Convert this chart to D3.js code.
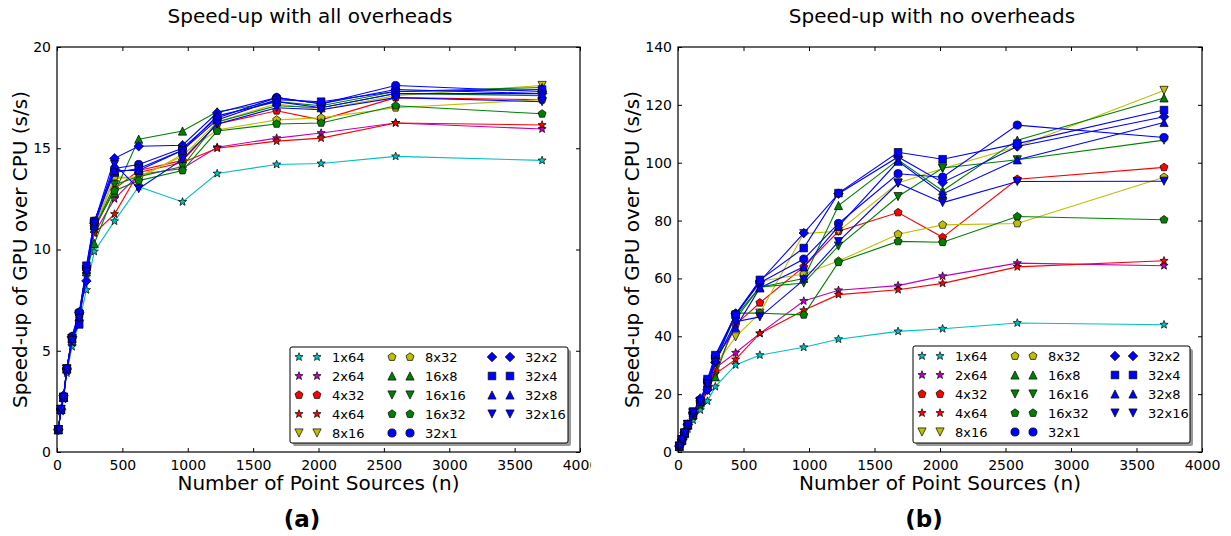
<!DOCTYPE html>
<html>
<head>
<meta charset="utf-8">
<script src="https://cdn.jsdelivr.net/npm/d3@7"></script>
<style>
  html, body { margin: 0; padding: 0; background: #fff; }
  svg { display: block; }
  text { font-family: 'DejaVu Sans', sans-serif; fill: #000; }
</style>
</head>
<body>
<svg id="chart" width="1231" height="536"></svg>
<script>
// ---------------- DATA ----------------
const nPoints = [10, 30, 50, 75, 115, 170, 225, 285, 440, 625, 960, 1225, 1680, 2020, 2590, 3710];
const seriesNames = ['1x64', '2x64', '4x32', '4x64', '8x16', '8x32', '16x8', '16x16', '16x32', '32x1', '32x2', '32x4', '32x8', '32x16'];

// Speed-up with all overheads
const all_1x64  = [1.1, 2.0, 2.6, 3.9, 5.2, 6.4, 8.0, 9.9, 11.4, 13.1, 12.35, 13.75, 14.2, 14.25, 14.6, 14.4];
const all_2x64  = [1.1, 2.1, 2.7, 4.0, 5.4, 6.6, 8.8, 10.8, 12.5, 13.7, 14.0, 15.05, 15.5, 15.75, 16.25, 15.95];
const all_4x32  = [1.1, 2.1, 2.7, 4.1, 5.6, 6.8, 9.0, 11.0, 13.0, 13.9, 14.4, 16.2, 16.85, 16.4, 17.5, 17.4];
const all_4x64  = [1.1, 2.1, 2.7, 4.0, 5.5, 6.7, 8.9, 10.8, 11.75, 13.8, 14.3, 15.0, 15.35, 15.5, 16.25, 16.15];
const all_8x16  = [1.1, 2.1, 2.7, 4.1, 5.6, 6.8, 9.0, 11.0, 13.5, 13.6, 14.6, 16.3, 17.2, 16.9, 17.6, 18.1];
const all_8x32  = [1.1, 2.1, 2.7, 4.1, 5.6, 6.8, 9.0, 11.1, 13.6, 13.5, 14.7, 15.9, 16.4, 16.5, 17.0, 17.4];
const all_16x8  = [1.1, 2.1, 2.7, 4.1, 5.5, 6.7, 8.9, 10.3, 12.8, 15.45, 15.85, 16.8, 17.3, 17.1, 17.8, 18.0];
const all_16x16 = [1.1, 2.1, 2.7, 4.1, 5.6, 6.8, 9.0, 11.0, 13.2, 13.6, 14.1, 16.3, 17.1, 17.0, 17.7, 17.6];
const all_16x32 = [1.1, 2.1, 2.7, 4.1, 5.6, 6.8, 9.0, 11.1, 12.9, 13.4, 13.9, 15.85, 16.2, 16.25, 17.1, 16.7];
const all_32x1  = [1.1, 2.1, 2.7, 4.1, 5.7, 6.9, 9.1, 11.4, 14.0, 14.2, 15.0, 16.5, 17.5, 17.2, 18.1, 17.8];
const all_32x2  = [1.1, 2.1, 2.8, 4.1, 5.7, 6.9, 8.45, 11.3, 14.5, 15.1, 15.15, 16.75, 17.5, 17.2, 17.9, 17.7];
const all_32x4  = [1.1, 2.1, 2.7, 4.1, 5.6, 6.3, 9.2, 11.4, 13.8, 14.0, 14.9, 16.4, 17.4, 17.3, 17.8, 17.9];
const all_32x8  = [1.1, 2.1, 2.7, 4.1, 5.6, 6.7, 9.0, 11.2, 13.9, 13.9, 14.9, 16.6, 17.3, 17.0, 17.7, 17.7];
const all_32x16 = [1.1, 2.1, 2.7, 4.1, 5.5, 6.6, 8.9, 11.3, 14.2, 13.0, 14.45, 16.2, 17.0, 16.9, 17.5, 17.3];

// Speed-up with no overheads
const none_1x64  = [1.5, 3.5, 5.5, 8, 11, 14.5, 17.6, 22.6, 30.1, 33.5, 36.2, 39, 41.7, 42.6, 44.6, 44];
const none_2x64  = [2, 4, 6.2, 9, 12.5, 16.5, 22, 29, 34.3, 41, 52.2, 55.9, 57.5, 60.8, 65.3, 64.4];
const none_4x32  = [2, 4, 6.2, 9, 12.5, 16.5, 22, 28, 44, 51.6, 64, 76.3, 82.8, 74.2, 94.3, 98.4];
const none_4x64  = [2, 4, 6, 8.8, 12.2, 16, 21, 27, 32, 41, 49, 54.4, 56.1, 58.3, 64, 66.1];
const none_8x16  = [2, 4.1, 6.5, 9.5, 13.5, 17.5, 23.5, 30, 39.8, 48, 75.5, 76.3, 93, 98, 105.5, 125];
const none_8x32  = [2, 4.2, 6.5, 9.5, 13.5, 17.5, 24, 32, 47.5, 59, 61.5, 66, 75.3, 78.5, 79, 95];
const none_16x8  = [2, 4, 6.4, 9.3, 13, 17, 23, 26, 46, 57, 60, 85.2, 101, 90.3, 107.8, 122.4];
const none_16x16 = [2, 4.2, 6.5, 9.5, 13.5, 17.5, 24, 32, 47, 57, 58.4, 71.2, 88.3, 98.2, 101, 107.8];
const none_16x32 = [2, 4.2, 6.5, 9.5, 13.5, 17.5, 24, 32, 48, 48, 47.4, 65.6, 72.8, 72.5, 81.4, 80.3];
const none_32x1  = [2, 4.2, 6.6, 9.5, 13.5, 17.5, 24, 33, 47.5, 58.5, 66.7, 79, 96.2, 95, 113, 108.7];
const none_32x2  = [2, 4.2, 6.6, 9.5, 13.5, 18.5, 21.5, 31, 47.8, 59, 75.7, 89.3, 102, 93.2, 105.6, 115.9];
const none_32x4  = [2, 4.2, 6.6, 9.5, 14, 17.5, 25.2, 33.5, 47.5, 59.5, 70.5, 89.5, 103.6, 101.2, 106.6, 118.2];
const none_32x8  = [2, 4.2, 6.6, 9.5, 13.5, 17.5, 24, 32, 43, 56.7, 64, 78, 100.5, 89.2, 101, 113.9];
const none_32x16 = [2, 4.2, 6.5, 9.5, 13.5, 17.5, 23.5, 31, 45, 46.7, 59.5, 72.7, 92.9, 86.2, 93.5, 93.6];

const xTicks = [0, 500, 1000, 1500, 2000, 2500, 3000, 3500, 4000];
const yTicksAll = [0, 5, 10, 15, 20];
const yTicksNone = [0, 20, 40, 60, 80, 100, 120, 140];

// ---------------- STYLES ----------------
const seriesColors = ['#00bfbf', '#bf00bf', '#ff0000', '#ff0000', '#bfbf00', '#bfbf00', '#008000', '#008000', '#008000', '#0000ff', '#0000ff', '#0000ff', '#0000ff', '#0000ff'];
const seriesMarkers = ['star', 'star', 'pentagon', 'star', 'triDown', 'pentagon', 'triUp', 'triDown', 'pentagon', 'circle', 'diamond', 'square', 'triUp', 'triDown'];

function markerPath(type) {
  const p = d3.path();
  if (type === 'circle') {
    const r = 4.1; p.arc(0, 0, r, 0, 2 * Math.PI); p.closePath();
  } else if (type === 'square') {
    const r = 3.8; p.rect(-r, -r, 2 * r, 2 * r);
  } else if (type === 'diamond') {
    const r = 4.8; p.moveTo(0, -r); p.lineTo(r, 0); p.lineTo(0, r); p.lineTo(-r, 0); p.closePath();
  } else if (type === 'triUp') {
    const r = 4.1; p.moveTo(0, -r); p.lineTo(r, r); p.lineTo(-r, r); p.closePath();
  } else if (type === 'triDown') {
    const r = 4.1; p.moveTo(0, r); p.lineTo(r, -r); p.lineTo(-r, -r); p.closePath();
  } else if (type === 'pentagon') {
    const r = 4.2;
    for (let i = 0; i < 5; i++) {
      const a = -Math.PI / 2 + i * 2 * Math.PI / 5;
      if (i === 0) p.moveTo(r * Math.cos(a), r * Math.sin(a)); else p.lineTo(r * Math.cos(a), r * Math.sin(a));
    }
    p.closePath();
  } else if (type === 'star') {
    const R = 4.3, r = R * 0.42;
    for (let i = 0; i < 10; i++) {
      const a = -Math.PI / 2 + i * Math.PI / 5;
      const rr = i % 2 === 0 ? R : r;
      if (i === 0) p.moveTo(rr * Math.cos(a), rr * Math.sin(a)); else p.lineTo(rr * Math.cos(a), rr * Math.sin(a));
    }
    p.closePath();
  }
  return p.toString();
}

const svg = d3.select('#chart');
svg.append('rect').attr('width', 1231).attr('height', 536).attr('fill', '#fff');

const defs = svg.append('defs');
defs.append('clipPath').attr('id', 'clipLeft').append('rect').attr('x', 0).attr('y', 0).attr('width', 591).attr('height', 536);

const panels = [
  {
    data: [all_1x64, all_2x64, all_4x32, all_4x64, all_8x16, all_8x32, all_16x8, all_16x16, all_16x32, all_32x1, all_32x2, all_32x4, all_32x8, all_32x16],
    x0: 57, x1: 580, y0: 47, y1: 452, ymax: 20, yTicks: yTicksAll,
    title: 'Speed-up with all overheads', titleX: 310, ylabelX: 27, caption: '(a)', captionX: 302,
    legend: { x: 290, y: 347, w: 278, h: 96 }, clip: 'url(#clipLeft)'
  },
  {
    data: [none_1x64, none_2x64, none_4x32, none_4x64, none_8x16, none_8x32, none_16x8, none_16x16, none_16x32, none_32x1, none_32x2, none_32x4, none_32x8, none_32x16],
    x0: 678, x1: 1202, y0: 47, y1: 452, ymax: 140, yTicks: yTicksNone,
    title: 'Speed-up with no overheads', titleX: 932, ylabelX: 639, caption: '(b)', captionX: 924,
    legend: { x: 913, y: 346, w: 277, h: 97 }, clip: null
  }
];

panels.forEach(P => {
  const g = svg.append('g');
  if (P.clip) g.attr('clip-path', P.clip);
  const x = d3.scaleLinear().domain([0, 4000]).range([P.x0, P.x1]);
  const y = d3.scaleLinear().domain([0, P.ymax]).range([P.y1, P.y0]);

  // series
  const line = d3.line().x((d, i) => x(nPoints[i])).y(d => y(d));
  P.data.forEach((vals, si) => {
    g.append('path').attr('d', line(vals)).attr('fill', 'none')
      .attr('stroke', seriesColors[si]).attr('stroke-width', 1.1);
    g.append('g').selectAll('path').data(vals).join('path')
      .attr('d', markerPath(seriesMarkers[si]))
      .attr('transform', (d, i) => `translate(${x(nPoints[i])},${y(d)})`)
      .attr('fill', seriesColors[si]).attr('stroke', '#000').attr('stroke-width', 0.7);
  });

  // axes
  const axB = g.append('g').attr('transform', `translate(0,${P.y1})`)
    .call(d3.axisBottom(x).tickValues(xTicks).tickSize(-4).tickSizeOuter(0).tickPadding(8).tickFormat(d3.format('d')));
  const axT = g.append('g').attr('transform', `translate(0,${P.y0})`)
    .call(d3.axisTop(x).tickValues(xTicks).tickSize(-4).tickSizeOuter(0).tickFormat(''));
  const axL = g.append('g').attr('transform', `translate(${P.x0},0)`)
    .call(d3.axisLeft(y).tickValues(P.yTicks).tickSize(-4).tickSizeOuter(0).tickPadding(6).tickFormat(d3.format('d')));
  const axR = g.append('g').attr('transform', `translate(${P.x1},0)`)
    .call(d3.axisRight(y).tickValues(P.yTicks).tickSize(-4).tickSizeOuter(0).tickFormat(''));
  [axB, axT, axL, axR].forEach(a => {
    a.select('.domain').remove();
    a.selectAll('line').attr('stroke', '#000').attr('stroke-width', 1);
    a.selectAll('text').attr('font-size', 14).attr('font-family', 'DejaVu Sans').attr('fill', '#000');
  });
  g.append('rect').attr('x', P.x0).attr('y', P.y0).attr('width', P.x1 - P.x0).attr('height', P.y1 - P.y0)
    .attr('fill', 'none').attr('stroke', '#000').attr('stroke-width', 1.2);

  // titles & labels
  g.append('text').attr('x', P.titleX).attr('y', 23).attr('text-anchor', 'middle').attr('font-size', 20).text(P.title);
  g.append('text').attr('x', (P.x0 + P.x1) / 2).attr('y', 490).attr('text-anchor', 'middle').attr('font-size', 20).text('Number of Point Sources (n)');
  g.append('text').attr('transform', `translate(${P.ylabelX},${(P.y0 + P.y1) / 2}) rotate(-90)`)
    .attr('text-anchor', 'middle').attr('font-size', 20).text('Speed-up of GPU over CPU (s/s)');
  g.append('text').attr('x', P.captionX).attr('y', 527).attr('text-anchor', 'middle').attr('font-size', 23).attr('font-weight', 'bold').text(P.caption);

  // legend
  const L = P.legend;
  const lg = g.append('g');
  lg.append('rect').attr('x', L.x + 3).attr('y', L.y + 3).attr('width', L.w).attr('height', L.h).attr('rx', 2).attr('fill', '#9a9a9a');
  lg.append('rect').attr('x', L.x).attr('y', L.y).attr('width', L.w).attr('height', L.h).attr('rx', 2)
    .attr('fill', '#fff').attr('stroke', '#000').attr('stroke-width', 1);
  const colOff = [0, 93, 193];
  seriesNames.forEach((name, si) => {
    const col = Math.floor(si / 5), row = si % 5;
    const bx = L.x + colOff[col], by = L.y + 10 + row * 19;
    [bx + 9, bx + 27].forEach(mx => {
      lg.append('path').attr('d', markerPath(seriesMarkers[si])).attr('transform', `translate(${mx},${by})`)
        .attr('fill', seriesColors[si]).attr('stroke', '#000').attr('stroke-width', 0.7);
    });
    lg.append('text').attr('x', bx + 42).attr('y', by + 5).attr('font-size', 13).text(name);
  });
});
</script>
</body>
</html>
